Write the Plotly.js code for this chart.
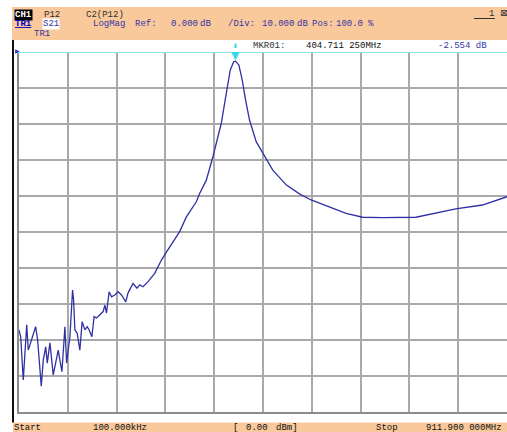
<!DOCTYPE html>
<html><head><meta charset="utf-8">
<script src="https://cdn.plot.ly/plotly-3.0.1.min.js"></script>
<style>html,body{margin:0;padding:0;background:#fff;}#chart{width:507px;height:432px;}</style>
</head><body><div id="chart"></div>
<script>
// ---- data (MHz, dB) ----
const freqMHz = [0.1,3.3,8.1,14.5,17.4,23.8,31.2,34.9,37.9,41.7,45.4,50.0,52.9,57.9,64.1,69.1,73.4,76.5,80.3,85.9,89.0,95.2,98.4,100.2,102.1,104.5,108.8,113.8,118.1,123.2,127.5,131.2,136.2,140.5,145.0,151.1,157.3,160.5,163.6,168.5,173.0,179.1,185.3,191.6,199.6,203.9,213.2,220.7,225.7,231.9,241.2,253.7,266.2,275.5,287.8,300.3,312.8,331.4,337.6,350.1,362.4,378.1,387.4,394.9,401.1,404.7,410.9,417.2,423.4,430.8,443.3,455.6,474.3,499.3,524.1,545.9,580.0,611.2,642.1,679.4,741.7,778.9,816.2,865.9,911.9];
const magDb = [-77.2,-79.1,-91.1,-75.8,-82.8,-80.0,-76.3,-80.0,-85.6,-92.8,-85.6,-81.9,-86.4,-80.8,-89.7,-86.4,-82.8,-85.6,-88.8,-76.3,-86.4,-79.1,-68.9,-66.1,-68.9,-77.2,-78.1,-82.8,-74.9,-77.2,-76.3,-77.2,-79.1,-73.5,-73.9,-73.1,-72.1,-70.3,-72.5,-66.6,-68.0,-67.5,-66.6,-67.5,-69.4,-66.9,-64.3,-65.6,-64.7,-65.2,-63.8,-61.5,-57.8,-55.6,-52.7,-49.9,-45.8,-41.6,-39.3,-35.6,-29.1,-19.8,-11.5,-5.0,-2.7,-2.55,-3.6,-7.8,-13.3,-18.9,-24.9,-28.1,-32.8,-36.9,-39.4,-41.1,-43.0,-44.8,-45.9,-46.0,-45.9,-44.8,-43.6,-42.5,-40.2];
const startMHz = 0.1, stopMHz = 911.9;
const refDb = 0, divDb = 10, nDiv = 10;
const markerFreq = [404.71125];
const markerDb = [-2.554];

// ---- texts ----
const headerRow1 = ["CH1", "P12", "C2(P12)"];
const headerRow2 = ["TR1", "S21", "LogMag", "Ref:", "0.000", "dB", "/Div:", "10.000", "dB", "Pos:", "100.0", "%"];
const headerRow3 = ["TR1"];
const markerRow = ["MKR01:", "404.711 250MHz", "-2.554 dB"];
const footerRow = ["Start", "100.000kHz", "[", "0.00", "dBm]", "Stop", "911.900 000MHz"];

// ---- pixel -> paper helpers for decorations ----
const L = 19, W = 488, T = 52, H = 360;
const px = v => (v - L) / W;
const py = v => (T + H - v) / H;

const FONT = "Liberation Mono, DejaVu Sans Mono, monospace";
const BLUE = "#3434a4";
const ann = [];
function txt(text, x, y, color, extra, size) {
  ann.push(Object.assign({
    text: text, xref: "paper", yref: "paper", x: px(x), y: py(y),
    xanchor: "left", yanchor: "middle", showarrow: false,
    font: {family: FONT, size: size || 9, color: color}, borderpad: 0
  }, extra || {}));
}
// row 1
txt(headerRow1[0], 14, 15, "#ffffff", {bgcolor: "#000000", font: {family: FONT, size: 9, color: "#fff", weight: "bold"}});
txt(headerRow1[1], 43, 15, "#303030");
txt(headerRow1[2], 85, 15, "#303030");
txt("1", 488, 14.5, "#303030");
txt("⊠", 499, 13, "#303030", {font: {family: "DejaVu Sans", size: 9, color: "#303030"}});
// row 2
txt("<u>" + headerRow2[0] + "</u>", 14, 23.5, "#0000c8", {font: {family: FONT, size: 9, color: "#0000c8", weight: "bold"}});
txt(headerRow2[1], 42, 23.5, BLUE, {bgcolor: "#ffffff"});
const row2x = [92, 134, 170, 199, 227, 261, 296, 311, 335, 367];
for (let i = 2; i < headerRow2.length; i++) txt(headerRow2[i], row2x[i - 2], 23.5, BLUE);
// row 3
txt(headerRow3[0], 33, 34.5, BLUE);
// marker row
txt(markerRow[0], 252, 45.5, "#303030");
txt(markerRow[1], 305, 45.5, "#101010");
txt(markerRow[2], 437, 45.5, BLUE);
// footer
const footX = [13, 92, 232, 245, 275, 375, 425];
for (let i = 0; i < footerRow.length; i++) txt(footerRow[i], footX[i], 427.5, "#101010");
// reference pointer at left
txt("▶", 14, 50.5, "#3030c0", {font: {family: "DejaVu Sans", size: 6, color: "#3030c0"}});
// marker triangle
ann.push({text: "▼", x: markerFreq[0], y: markerDb[0], xref: "x", yref: "y",
  xanchor: "center", yanchor: "bottom", showarrow: false, yshift: -3,
  font: {family: "DejaVu Sans", size: 11, color: "#30d8e8"}});

const shapes = [
  // header band
  {type: "rect", xref: "paper", yref: "paper", x0: px(12), x1: px(507), y0: py(40), y1: py(7), fillcolor: "#f9c99c", line: {width: 0}, layer: "above"},
  // footer band
  {type: "rect", xref: "paper", yref: "paper", x0: px(13), x1: px(507), y0: py(432), y1: py(422.5), fillcolor: "#f9c99c", line: {width: 0}, layer: "above"},
  // window left edge
  {type: "line", xref: "paper", yref: "paper", x0: px(13), x1: px(13), y0: py(40), y1: py(422.5), line: {color: "#101010", width: 2}, layer: "above"},
  // underline of "1"
  {type: "line", xref: "paper", yref: "paper", x0: px(474), x1: px(495), y0: py(18.5), y1: py(18.5), line: {color: "#303030", width: 1}, layer: "above"},
  // centre lines
  {type: "line", xref: "paper", yref: "paper", x0: 0.5, x1: 0.5, y0: 0, y1: 1, line: {color: "#202020", width: 1.5}, layer: "below"},
  {type: "line", xref: "paper", yref: "paper", x0: 0, x1: 1, y0: 0.5, y1: 0.5, line: {color: "#202020", width: 1.5}, layer: "below"},
  // reference level line
  {type: "line", xref: "paper", yref: "y", x0: px(15), x1: 1, y0: refDb, y1: refDb, line: {color: "#88e4ea", width: 2}, layer: "above"},
  // marker tick
  {type: "line", xref: "x", yref: "paper", x0: markerFreq[0], x1: markerFreq[0], y0: py(48), y1: py(43.5), line: {color: "#30d8e8", width: 2}, layer: "above"}
];

const trace = {x: freqMHz, y: magDb, type: "scatter", mode: "lines",
  line: {color: "#3030a6", width: 1.3}, hoverinfo: "skip"};

const layout = {
  width: 507, height: 432,
  margin: {l: L, r: 0, t: T, b: 432 - T - H, pad: 0},
  paper_bgcolor: "#ffffff", plot_bgcolor: "#ffffff",
  showlegend: false,
  xaxis: {range: [startMHz, stopMHz], tick0: startMHz, dtick: (stopMHz - startMHz) / nDiv,
    showticklabels: false, ticks: "", showgrid: true, gridcolor: "#a9a9a9", gridwidth: 2,
    zeroline: false, showline: true, linecolor: "#8c8c8c", linewidth: 2, fixedrange: true},
  yaxis: {range: [refDb - divDb * nDiv, refDb], tick0: refDb, dtick: divDb,
    showticklabels: false, ticks: "", showgrid: true, gridcolor: "#a9a9a9", gridwidth: 2,
    zeroline: false, showline: true, linecolor: "#8c8c8c", linewidth: 2, fixedrange: true},
  shapes: shapes, annotations: ann
};
Plotly.newPlot("chart", [trace], layout, {staticPlot: true, displayModeBar: false});
</script></body></html>
